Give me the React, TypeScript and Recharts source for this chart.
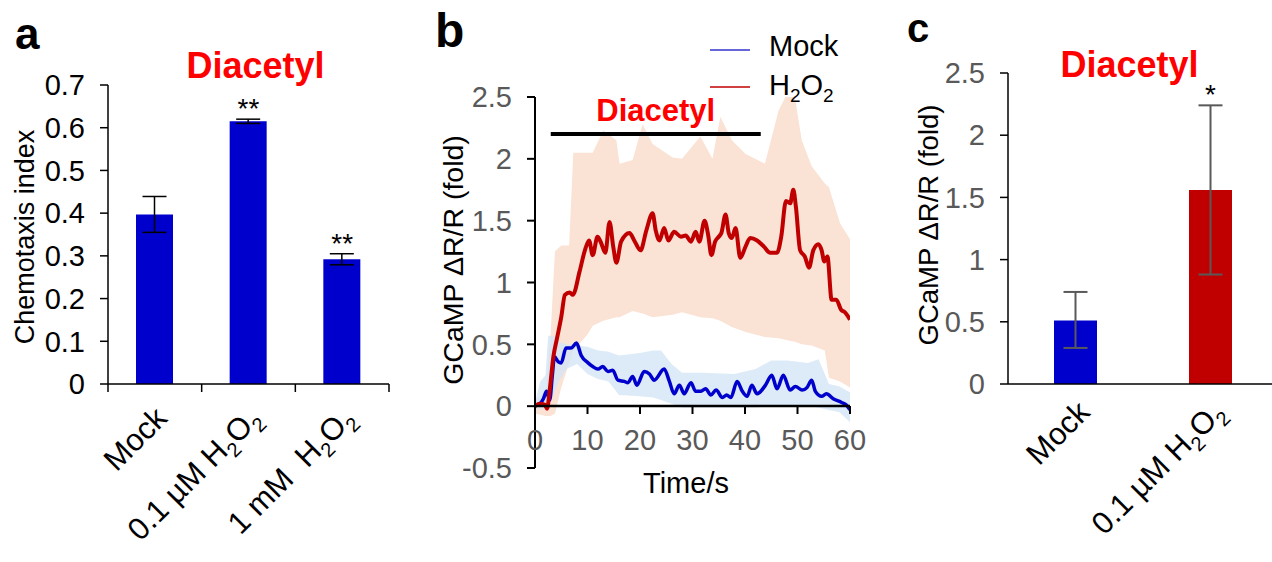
import React from 'react';
import {
  ComposedChart,
  Bar,
  Line,
  Area,
  XAxis,
  YAxis,
  ErrorBar,
  Cell,
  LabelList,
  ReferenceLine,
} from 'recharts';

const FONT = "'Liberation Sans', Arial, Helvetica, sans-serif";
const GREY = '#595959';
const BLUE = '#0000CC';
const RED = '#C00000';
const TITLE_RED = '#FF0000';
const TICK_FS = 29;
const CAT_FS = 31;

// ---------- Panel a : chemotaxis index ----------
const chemoCategories = ['Mock', '0.1 µM H2O2', '1 mM  H2O2'];
const chemoMeans = [0.397, 0.615, 0.292];
const chemoErrors = [0.042, 0.005, 0.013];
const chemoSig = ['', '**', '**'];
const chemoTicks = [0, 0.1, 0.2, 0.3, 0.4, 0.5, 0.6, 0.7];

// ---------- Panel b : GCaMP traces ----------
const timeTicks = [0, 10, 20, 30, 40, 50, 60];
const foldTicksB = [-0.5, 0, 0.5, 1, 1.5, 2, 2.5];
const stimStart = 3;
const stimEnd = 43;
const stimLevel = 2.2;

const h2o2Trace: [number, number][] = [
  [0, 0], [0.9, 0.02], [1.9, 0.01], [2.3, -0.02], [2.8, 0.13], [3.5, 0.4], [4.2, 0.55], [5.0, 0.72],
  [5.7, 0.9], [6.6, 0.92], [7.2, 0.9], [8.5, 1.09], [9.5, 1.26], [10.3, 1.34], [11.0, 1.22], [11.9, 1.37],
  [12.5, 1.33], [13.4, 1.24], [14.2, 1.49], [14.9, 1.29], [15.5, 1.16], [16.4, 1.33], [18.0, 1.4], [18.9, 1.34],
  [20.1, 1.26], [21.2, 1.42], [22.4, 1.56], [23.0, 1.42], [23.7, 1.34], [24.6, 1.44], [25.4, 1.34], [26.5, 1.41],
  [27.8, 1.37], [28.7, 1.38], [29.7, 1.33], [30.6, 1.41], [31.3, 1.33], [32.3, 1.5], [33.0, 1.38], [33.6, 1.22],
  [34.3, 1.33], [35.0, 1.37], [35.5, 1.4], [36.3, 1.55], [36.9, 1.4], [37.5, 1.36], [38.2, 1.44], [39.1, 1.2],
  [40.1, 1.29], [41.0, 1.36], [42.3, 1.34], [43.6, 1.29], [44.8, 1.24], [46.1, 1.24], [46.9, 1.37], [47.8, 1.66],
  [48.6, 1.64], [49.2, 1.75], [49.7, 1.61], [50.5, 1.26], [51.4, 1.21], [52.2, 1.12], [53.0, 1.26], [54.0, 1.31],
  [54.6, 1.26], [55.1, 1.17], [55.7, 1.21], [56.5, 0.86], [57.4, 0.86], [58.3, 0.78], [59.0, 0.76], [60, 0.7],
];

const mockTrace: [number, number][] = [
  [0, 0.01], [0.9, 0.02], [1.6, 0.06], [2.2, 0.12], [2.8, 0.05], [3.3, 0.25], [3.7, 0.4], [4.4, 0.36],
  [5.0, 0.35], [5.9, 0.47], [6.9, 0.47], [7.9, 0.51], [8.8, 0.41], [10.1, 0.35], [11.0, 0.32], [12.0, 0.3],
  [12.9, 0.32], [13.9, 0.28], [14.8, 0.29], [15.8, 0.21], [17.0, 0.2], [17.7, 0.19], [18.6, 0.24], [19.4, 0.17],
  [20.8, 0.28], [21.8, 0.26], [22.7, 0.21], [24.6, 0.3], [25.6, 0.2], [26.5, 0.1], [27.5, 0.17], [28.4, 0.1],
  [29.7, 0.19], [30.6, 0.12], [31.5, 0.12], [32.5, 0.14], [33.5, 0.09], [34.5, 0.13], [35.7, 0.07], [36.5, 0.09],
  [37.3, 0.07], [38.5, 0.2], [39.5, 0.12], [40.4, 0.08], [41.3, 0.17], [42.3, 0.1], [43.9, 0.17], [45.1, 0.25],
  [46.1, 0.14], [47.3, 0.25], [48.6, 0.13], [49.6, 0.16], [50.9, 0.13], [51.8, 0.15], [52.7, 0.21], [53.4, 0.12],
  [54.6, 0.08], [55.5, 0.1], [56.8, 0.06], [58.4, 0.03], [59.3, 0.01], [60, -0.03],
];

// [time, lower, upper]
const h2o2Band: [number, number, number][] = [
  [0, -0.06, 0.05], [2, -0.08, 0.1], [3, -0.08, 0.6], [3.8, -0.06, 1.25], [5, 0.15, 1.3], [6.5, 0.35, 1.3],
  [7.3, 0.45, 2.05], [10, 0.58, 2.05], [11, 0.65, 2.05], [13, 0.69, 2.23], [15.5, 0.72, 2.15], [16.1, 0.72, 1.96],
  [18.6, 0.77, 1.99], [20.5, 0.75, 2.28], [22.4, 0.72, 2.12], [26.2, 0.74, 2.01], [28, 0.76, 2.0], [31.5, 0.72, 2.18],
  [33.8, 0.71, 2.0], [35.3, 0.69, 2.34], [37.5, 0.64, 2.15], [40.1, 0.6, 2.04], [43.8, 0.56, 1.96], [46.4, 0.55, 2.39],
  [48.3, 0.53, 2.55], [49.5, 0.52, 2.5], [50.8, 0.5, 2.15], [52.7, 0.49, 1.94], [55.2, 0.45, 1.8], [56, 0.23, 1.77],
  [58.1, 0.2, 1.48], [60, 0.15, 1.35],
];

const mockBand: [number, number, number][] = [
  [0, -0.02, 0.03], [1, -0.02, 0.2], [2, -0.02, 0.25], [2.5, 0.0, 0.57], [3.5, 0.1, 0.57], [4.5, 0.2, 0.52],
  [6, 0.3, 0.5], [8, 0.34, 0.49], [10, 0.26, 0.48], [12, 0.22, 0.45], [14, 0.2, 0.44], [16, 0.09, 0.41],
  [20, 0.08, 0.43], [22.5, 0.07, 0.45], [24, 0.05, 0.45], [26, 0.02, 0.34], [28, -0.01, 0.27], [32, -0.01, 0.27],
  [38, -0.01, 0.26], [42, -0.01, 0.3], [45, 0, 0.37], [48, 0, 0.37], [52, 0, 0.35], [54, -0.01, 0.38],
  [56, -0.03, 0.18], [58, -0.05, 0.16], [60, -0.13, 0.11],
];

// ---------- Panel c : GCaMP peak ----------
const gcampCategories = ['Mock', '0.1 µM H2O2'];
const gcampMeans = [0.51, 1.56];
const gcampErrLow = [0.22, 0.68];
const gcampErrHigh = [0.23, 0.68];
const gcampSig = ['', '*'];
const gcampColors = [BLUE, RED];
const foldTicksC = [0, 0.5, 1, 1.5, 2, 2.5];

// ---------- derived tables ----------
const chemoData = chemoCategories.map((name, i) => ({
  name,
  mean: chemoMeans[i],
  err: chemoErrors[i],
  starY: chemoSig[i] ? chemoMeans[i] + chemoErrors[i] : null,
  sig: chemoSig[i],
}));
const gcampData = gcampCategories.map((name, i) => ({
  name,
  mean: gcampMeans[i],
  err: [gcampErrLow[i], gcampErrHigh[i]],
  starY: gcampSig[i] ? gcampMeans[i] + gcampErrHigh[i] : null,
  sig: gcampSig[i],
}));
const h2o2LineData = h2o2Trace.map(([t, v]) => ({ t, v }));
const mockLineData = mockTrace.map(([t, v]) => ({ t, v }));
const h2o2BandData = h2o2Band.map(([t, lo, hi]) => ({ t, range: [lo, hi] }));
const mockBandData = mockBand.map(([t, lo, hi]) => ({ t, range: [lo, hi] }));

const fmt = (v: number) => String(Number(v.toFixed(2)));

function chemParts(label: string, subSize: number, drop: number) {
  const idx = label.indexOf('H2O2');
  if (idx < 0) return [<tspan key="p">{label}</tspan>];
  const pre = label.slice(0, idx);
  return [
    <tspan key="a">{pre + 'H'}</tspan>,
    <tspan key="b" dy={drop} fontSize={subSize}>2</tspan>,
    <tspan key="c" dy={-drop}>O</tspan>,
    <tspan key="d" dy={drop} fontSize={subSize}>2</tspan>,
  ];
}

const makeCatTick = (n: number, edges: boolean, fallbackBand: number, dx: number, dy: number, fs: number) =>
  (props: any) => {
    const { x, y, payload, index } = props;
    const w = typeof props.width === 'number' && props.width > 0 ? props.width : fallbackBand * n;
    const bw = w / n;
    return (
      <g>
        {edges && (
          <line x1={x - bw / 2} x2={x - bw / 2} y1={y} y2={y + 8} stroke="#000" strokeWidth={1.5} />
        )}
        {edges && index === n - 1 && (
          <line x1={x + bw / 2} x2={x + bw / 2} y1={y} y2={y + 8} stroke="#000" strokeWidth={1.5} />
        )}
        <text
          transform={`translate(${x + dx},${y + dy}) rotate(-45)`}
          textAnchor="end"
          fontSize={fs}
          fill="#000"
          fontFamily={FONT}
          style={{ whiteSpace: 'pre' }}
        >
          {chemParts(String(payload.value), fs * 0.65, fs * 0.25)}
        </text>
      </g>
    );
  };

const starLabel = (props: any) => {
  const { x, y, value } = props;
  if (!value) return null;
  return (
    <text x={x} y={y - 1} textAnchor="middle" fontSize={28} fill="#000" fontFamily={FONT}>
      {value}
    </text>
  );
};

export default function App() {
  return (
    <div
      style={{
        position: 'absolute',
        left: 0,
        top: 0,
        width: 1272,
        height: 562,
        overflow: 'hidden',
        background: '#fff',
        fontFamily: FONT,
      }}
    >
      {/* Panel a */}
      <div style={{ position: 'absolute', left: 0, top: 0 }}>
        <ComposedChart width={420} height={562} data={chemoData} margin={{ top: 85, right: 31, bottom: 8, left: 8 }}>
          <XAxis
            dataKey="name"
            type="category"
            interval={0}
            height={170}
            tickSize={0}
            tickMargin={0}
            tickLine={false}
            axisLine={{ stroke: '#000', strokeWidth: 1.5 }}
            tick={makeCatTick(3, true, 94, 14, 36, CAT_FS)}
          />
          <YAxis
            width={100}
            domain={[0, 0.7]}
            ticks={chemoTicks}
            tickFormatter={fmt}
            tickSize={8}
            tickMargin={15}
            axisLine={{ stroke: '#000', strokeWidth: 1.5 }}
            tickLine={{ stroke: '#000', strokeWidth: 1.5 }}
            tick={{ fill: '#000', fontSize: TICK_FS, fontFamily: FONT }}
          />
          <Bar dataKey="mean" fill={BLUE} barSize={37} isAnimationActive={false}>
            <ErrorBar dataKey="err" width={12} strokeWidth={1.5} stroke="#000" direction="y" />
          </Bar>
          <Line dataKey="starY" stroke="none" dot={false} activeDot={false} isAnimationActive={false}>
            <LabelList dataKey="sig" content={starLabel} />
          </Line>
        </ComposedChart>
      </div>

      {/* Panel b : data */}
      <div style={{ position: 'absolute', left: 420, top: 0 }}>
        <ComposedChart width={452} height={562} margin={{ top: 97, right: 22, bottom: 94, left: 35 }}>
          <XAxis dataKey="t" type="number" domain={[0, 60]} ticks={timeTicks} hide allowDataOverflow />
          <YAxis
            width={80}
            type="number"
            domain={[-0.5, 2.5]}
            ticks={foldTicksB}
            tickFormatter={fmt}
            allowDataOverflow
            tickSize={8}
            tickMargin={15}
            axisLine={{ stroke: '#000', strokeWidth: 2 }}
            tickLine={{ stroke: '#000', strokeWidth: 2 }}
            tick={{ fill: GREY, fontSize: TICK_FS, fontFamily: FONT }}
          />
          <Area
            data={h2o2BandData}
            dataKey="range"
            type="linear"
            stroke="none"
            fill="#FAE2D4"
            fillOpacity={1}
            isAnimationActive={false}
          />
          <Area
            data={mockBandData}
            dataKey="range"
            type="linear"
            stroke="none"
            fill="#D5E5F5"
            fillOpacity={0.8}
            isAnimationActive={false}
          />
          <ReferenceLine
            segment={[
              { x: stimStart, y: stimLevel },
              { x: stimEnd, y: stimLevel },
            ]}
            stroke="#000"
            strokeWidth={4}
            label={{
              value: 'Diacetyl',
              position: 'top',
              offset: 13,
              fill: TITLE_RED,
              fontSize: 31,
              fontWeight: 'bold',
              fontFamily: FONT,
            }}
          />
          <Line
            data={mockLineData}
            dataKey="v"
            type="monotone"
            stroke={BLUE}
            strokeWidth={3.5}
            dot={false}
            activeDot={false}
            isAnimationActive={false}
          />
          <Line
            data={h2o2LineData}
            dataKey="v"
            type="monotone"
            stroke={RED}
            strokeWidth={4}
            dot={false}
            activeDot={false}
            isAnimationActive={false}
          />
        </ComposedChart>
      </div>

      {/* Panel b : x axis drawn at y = 0 */}
      <div style={{ position: 'absolute', left: 420, top: 0 }}>
        <ComposedChart width={452} height={562} margin={{ top: 97, right: 22, bottom: 126, left: 115 }}>
          <XAxis
            dataKey="t"
            type="number"
            domain={[0, 60]}
            ticks={timeTicks}
            allowDataOverflow
            height={30}
            tickSize={8}
            tickMargin={15}
            axisLine={{ stroke: '#000', strokeWidth: 2.5 }}
            tickLine={{ stroke: '#000', strokeWidth: 2 }}
            tick={{ fill: GREY, fontSize: TICK_FS, fontFamily: FONT }}
          />
          <YAxis hide type="number" domain={[0, 2.5]} allowDataOverflow />
          <Line
            data={h2o2LineData}
            dataKey="v"
            stroke="none"
            dot={false}
            activeDot={false}
            isAnimationActive={false}
          />
        </ComposedChart>
      </div>

      {/* Panel c */}
      <div style={{ position: 'absolute', left: 880, top: 0 }}>
        <ComposedChart width={400} height={562} data={gcampData} margin={{ top: 73, right: 2, bottom: 8, left: 28 }}>
          <XAxis
            dataKey="name"
            type="category"
            interval={0}
            height={170}
            tickSize={0}
            tickMargin={0}
            tickLine={false}
            axisLine={{ stroke: '#000', strokeWidth: 1.5 }}
            tick={makeCatTick(2, false, 135, 16, 30, CAT_FS)}
          />
          <YAxis
            width={100}
            domain={[0, 2.5]}
            ticks={foldTicksC}
            tickFormatter={fmt}
            tickSize={8}
            tickMargin={15}
            axisLine={{ stroke: '#000', strokeWidth: 1.5 }}
            tickLine={{ stroke: '#000', strokeWidth: 1.5 }}
            tick={{ fill: GREY, fontSize: TICK_FS, fontFamily: FONT }}
          />
          <Bar dataKey="mean" barSize={43} isAnimationActive={false}>
            {gcampData.map((d, i) => (
              <Cell key={d.name} fill={gcampColors[i]} />
            ))}
            <ErrorBar dataKey="err" width={12} strokeWidth={2} stroke={GREY} direction="y" />
          </Bar>
          <Line dataKey="starY" stroke="none" dot={false} activeDot={false} isAnimationActive={false}>
            <LabelList dataKey="sig" content={starLabel} />
          </Line>
        </ComposedChart>
      </div>

      {/* Text annotations */}
      <svg
        width={1272}
        height={562}
        style={{ position: 'absolute', left: 0, top: 0, pointerEvents: 'none' }}
        fontFamily={FONT}
      >
        <text x={15} y={49} fontSize={44} fontWeight="bold" fill="#000">a</text>
        <text x={435} y={47} fontSize={48} fontWeight="bold" fill="#000">b</text>
        <text x={907} y={42} fontSize={40} fontWeight="bold" fill="#000">c</text>

        <text x={255.5} y={78} textAnchor="middle" fontSize={36} fontWeight="bold" fill={TITLE_RED}>Diacetyl</text>
        <text x={1129.5} y={77} textAnchor="middle" fontSize={36} fontWeight="bold" fill={TITLE_RED}>Diacetyl</text>

        <text transform="translate(34,237) rotate(-90)" textAnchor="middle" fontSize={27} fill="#000">
          Chemotaxis index
        </text>
        <text transform="translate(463,260) rotate(-90)" textAnchor="middle" fontSize={28.5} fill="#000">
          GCaMP ΔR/R (fold)
        </text>
        <text transform="translate(938,225) rotate(-90)" textAnchor="middle" fontSize={27.5} fill="#000">
          GCaMP ΔR/R (fold)
        </text>
        <text x={686} y={493} textAnchor="middle" fontSize={29} fill="#000">Time/s</text>

        {/* legend */}
        <line x1={710} x2={750} y1={50} y2={50} stroke="#3333CC" strokeWidth={1.5} />
        <text x={769} y={56} fontSize={29} fill="#000">Mock</text>
        <line x1={710} x2={750} y1={87} y2={87} stroke={RED} strokeWidth={1.5} />
        <text x={769} y={95} fontSize={29} fill="#000">
          {chemParts('H2O2', 19, 7)}
        </text>
      </svg>
    </div>
  );
}
